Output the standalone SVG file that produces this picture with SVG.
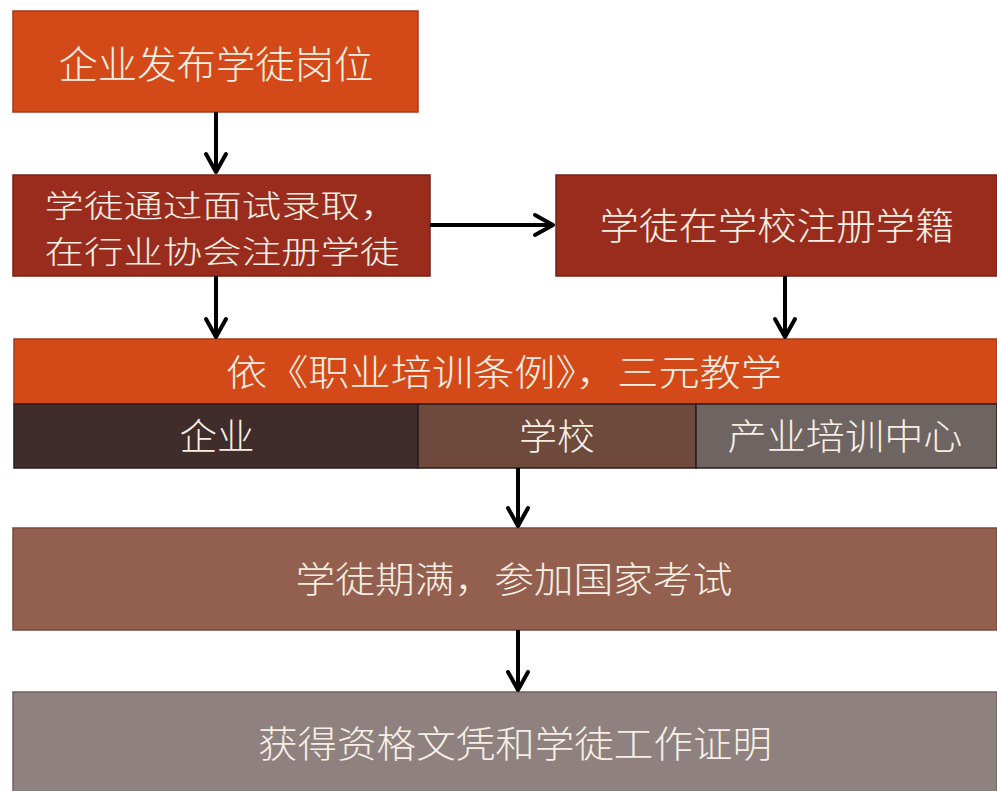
<svg xmlns="http://www.w3.org/2000/svg" width="997" height="791" viewBox="0 0 997 791">
<defs>
<marker id="ah" viewBox="0 0 24 26" refX="21" refY="13" markerWidth="24" markerHeight="26" markerUnits="userSpaceOnUse" orient="auto">
<path d="M3,3 L21,13 L3,23" fill="none" stroke="#000" stroke-width="4" stroke-linecap="round" stroke-linejoin="round"/>
</marker>
</defs>
<style>
text{font-family:"Noto Sans CJK SC","Noto Sans",sans-serif;font-weight:300;fill:#f7efe4;text-anchor:middle;dominant-baseline:central;}
.c{stroke:#000;stroke-width:4;fill:none;marker-end:url(#ah);}
rect{stroke-width:1.5;}
</style>
<rect width="997" height="791" fill="#ffffff" stroke="none"/>
<g id="n1"><rect x="13" y="11" width="405" height="101" fill="#d34a18" stroke="#a8381a"/><text x="216" y="61" font-size="38" textLength="315" lengthAdjust="spacingAndGlyphs">企业发布学徒岗位</text></g>
<g id="n2"><rect x="13" y="175" width="417" height="101" fill="#9a2c1e" stroke="#7a2015"/><text font-size="31"><tspan x="222" y="203" textLength="355" lengthAdjust="spacingAndGlyphs">学徒通过面试录取，</tspan><tspan x="222" y="249" textLength="355" lengthAdjust="spacingAndGlyphs">在行业协会注册学徒</tspan></text></g>
<g id="n3"><rect x="556" y="175" width="441" height="101" fill="#9a2c1e" stroke="#7a2015"/><text x="777" y="224" font-size="37" textLength="355" lengthAdjust="spacingAndGlyphs">学徒在学校注册学籍</text></g>
<g id="n4"><rect x="14" y="339" width="983" height="65" fill="#d34a18" stroke="#a8381a"/><text x="504" y="370" font-size="36" textLength="556" lengthAdjust="spacingAndGlyphs">依《职业培训条例》，三元教学</text></g>
<g id="n5"><rect x="14" y="404" width="404" height="64" fill="#3f2c2b" stroke="#2a1c1b"/><text x="217" y="434" font-size="36" textLength="75" lengthAdjust="spacingAndGlyphs">企业</text></g>
<g id="n6"><rect x="418" y="404" width="278" height="64" fill="#6d4a3c" stroke="#2a1c1b"/><text x="557" y="434" font-size="36" textLength="76" lengthAdjust="spacingAndGlyphs">学校</text></g>
<g id="n7"><rect x="696" y="404" width="301" height="64" fill="#6e6563" stroke="#2a1c1b"/><text x="845" y="434" font-size="36" textLength="235" lengthAdjust="spacingAndGlyphs">产业培训中心</text></g>
<g id="n8"><rect x="13" y="528" width="984" height="102" fill="#935f4f" stroke="#7a4a3c"/><text x="514" y="577" font-size="36" textLength="437" lengthAdjust="spacingAndGlyphs">学徒期满，参加国家考试</text></g>
<g id="n9"><rect x="13" y="692" width="984" height="100" fill="#8e8180" stroke="#6e6260"/><text x="515" y="742" font-size="37" textLength="514" lengthAdjust="spacingAndGlyphs">获得资格文凭和学徒工作证明</text></g>
<g id="connectors">
<line class="c" x1="216" y1="112" x2="216" y2="172"/>
<line class="c" x1="216" y1="276" x2="216" y2="337"/>
<line class="c" x1="430" y1="225" x2="553" y2="225"/>
<line class="c" x1="785" y1="276" x2="785" y2="337"/>
<line class="c" x1="518" y1="468" x2="518" y2="526"/>
<line class="c" x1="518" y1="630" x2="518" y2="690"/>
</g>
</svg>
